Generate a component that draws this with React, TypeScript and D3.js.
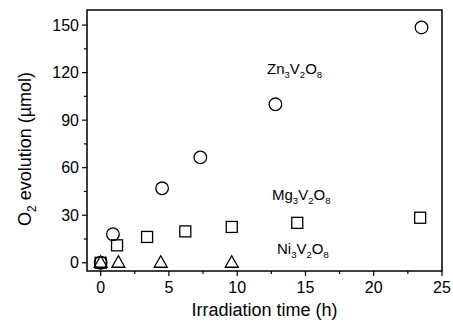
import React from 'react';
import * as d3 from 'd3';

// Zn3V2O8 (circles)
const znTime = [0, 0.9, 4.5, 7.3, 12.8, 23.5];
const znO2 = [0, 18, 47, 66.5, 100, 148.5];
// Mg3V2O8 (squares)
const mgTime = [0, 1.2, 3.4, 6.2, 9.6, 14.4, 23.4];
const mgO2 = [0, 11, 16.3, 19.8, 22.6, 25.2, 28.4];
// Ni3V2O8 (triangles)
const niTime = [0, 1.3, 4.4, 9.6];
const niO2 = [0, 0, 0, 0];

const xTicks = [0, 5, 10, 15, 20, 25];
const yTicks = [0, 30, 60, 90, 120, 150];

const W = 453;
const H = 327;
const margin = { top: 10, right: 11, bottom: 56, left: 87 };

export default function App() {
  const x = d3.scaleLinear().domain([-1, 25]).range([margin.left, W - margin.right]);
  const y = d3.scaleLinear().domain([-5.2, 159.5]).range([H - margin.bottom, margin.top]);

  const xMinor = d3.range(0, 25.1, 2.5).filter(v => !xTicks.includes(v));
  const yMinor = d3.range(0, 160, 15).filter(v => !yTicks.includes(v));

  const font = "'Liberation Sans', Arial, sans-serif";
  const bottom = H - margin.bottom;
  const left = margin.left;

  // open triangle, ~13px wide, ~11px tall, centred on the point
  const tri = 'M0,-7L6.5,4.5L-6.5,4.5Z';

  const formula = (el: string, a: string, b: string, tx: number, ty: number) => (
    <text x={tx} y={ty} fontSize={15} fontFamily={font}>
      {el}
      <tspan fontSize={9.5} dy={4}>{a}</tspan>
      <tspan dy={-4}>V</tspan>
      <tspan fontSize={9.5} dy={4}>{b}</tspan>
      <tspan dy={-4}>O</tspan>
      <tspan fontSize={9.5} dy={4}>8</tspan>
    </text>
  );

  return (
    <svg width={W} height={H} style={{ position: 'absolute', left: 0, top: 0, background: '#fff' }}>
      <rect x={left} y={margin.top} width={W - margin.right - left} height={bottom - margin.top}
        fill="none" stroke="#000" strokeWidth={1.5} />

      {/* x axis */}
      {xTicks.map(t => (
        <g key={'xt' + t}>
          <line x1={x(t)} x2={x(t)} y1={bottom} y2={bottom + 5} stroke="#000" strokeWidth={1.2} />
          <text x={x(t)} y={bottom + 22} textAnchor="middle" fontSize={16} fontFamily={font}>{t}</text>
        </g>
      ))}
      {xMinor.map(t => (
        <line key={'xm' + t} x1={x(t)} x2={x(t)} y1={bottom} y2={bottom + 3} stroke="#000" strokeWidth={1.2} />
      ))}

      {/* y axis */}
      {yTicks.map(t => (
        <g key={'yt' + t}>
          <line x1={left - 5} x2={left} y1={y(t)} y2={y(t)} stroke="#000" strokeWidth={1.2} />
          <text x={left - 8} y={y(t) + 5.5} textAnchor="end" fontSize={16} fontFamily={font}>{t}</text>
        </g>
      ))}
      {yMinor.map(t => (
        <line key={'ym' + t} x1={left - 3} x2={left} y1={y(t)} y2={y(t)} stroke="#000" strokeWidth={1.2} />
      ))}

      <text x={(left + W - margin.right) / 2} y={316} textAnchor="middle" fontSize={18} fontFamily={font}>
        Irradiation time (h)
      </text>
      <text transform={`translate(31,${149}) rotate(-90)`} textAnchor="middle" fontSize={18} fontFamily={font}>
        O<tspan fontSize={12} dy={5}>2</tspan><tspan dy={-5}> evolution (µmol)</tspan>
      </text>

      {/* data */}
      {znTime.map((t, i) => (
        <circle key={'zn' + i} cx={x(t)} cy={y(znO2[i])} r={6.3} fill="none" stroke="#000" strokeWidth={1.3} />
      ))}
      {mgTime.map((t, i) => (
        <rect key={'mg' + i} x={x(t) - 5.5} y={y(mgO2[i]) - 5.5} width={11} height={11}
          fill="none" stroke="#000" strokeWidth={1.3} />
      ))}
      {niTime.map((t, i) => (
        <path key={'ni' + i} d={tri} transform={`translate(${x(t)},${y(niO2[i])})`}
          fill="none" stroke="#000" strokeWidth={1.3} />
      ))}

      {formula('Zn', '3', '2', 267, 74)}
      {formula('Mg', '3', '2', 272, 200)}
      {formula('Ni', '3', '2', 277, 254)}
    </svg>
  );
}
